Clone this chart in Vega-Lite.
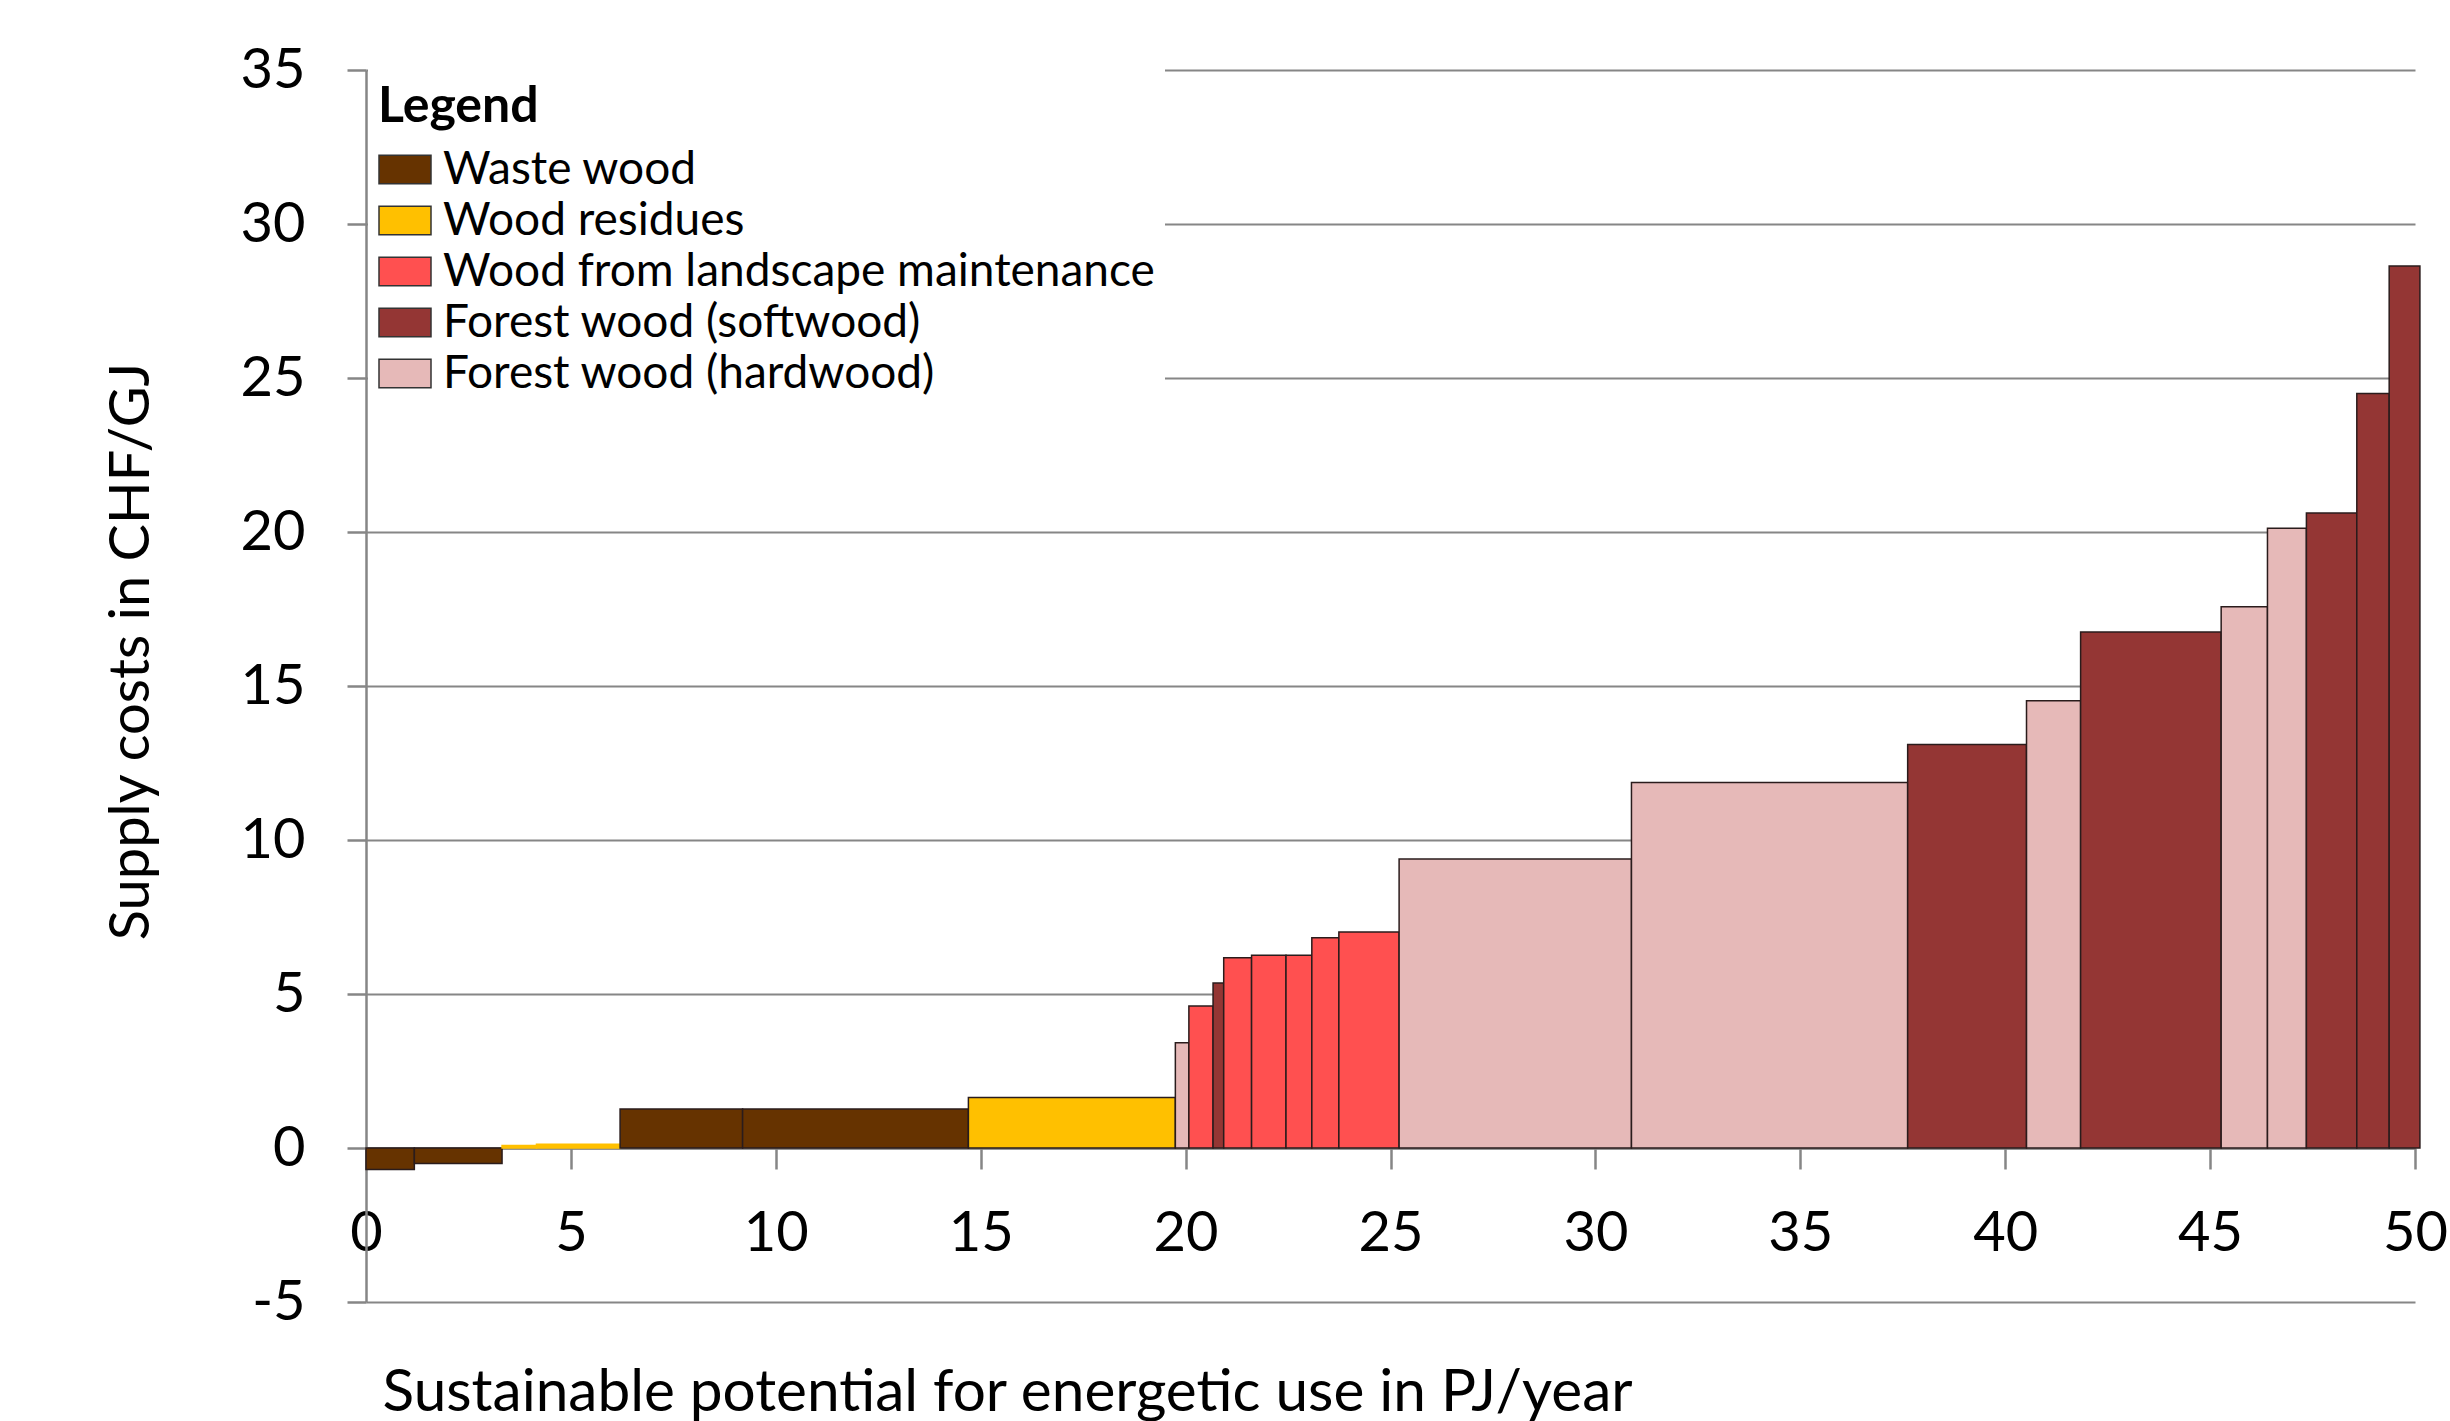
{
  "$schema": "https://vega.github.io/schema/vega-lite/v6.json",
  "width": 2049,
  "height": 1232,
  "autosize": {"type": "none"},
  "padding": {"left": 366, "top": 70, "right": 35, "bottom": 119},
  "background": "white",
  "config": {
    "view": {"stroke": null},
    "font": "Lato"
  },
  "data": {
    "values": [
      {"x0": 0, "x1": 1.18, "cost": -0.7, "type": "Waste wood"},
      {"x0": 1.18, "x1": 3.32, "cost": -0.5, "type": "Waste wood"},
      {"x0": 3.32, "x1": 4.16, "cost": 0.08, "type": "Wood residues"},
      {"x0": 4.16, "x1": 6.2, "cost": 0.12, "type": "Wood residues"},
      {"x0": 6.2, "x1": 9.19, "cost": 1.27, "type": "Waste wood"},
      {"x0": 9.19, "x1": 14.7, "cost": 1.27, "type": "Waste wood"},
      {"x0": 14.7, "x1": 19.75, "cost": 1.64, "type": "Wood residues"},
      {"x0": 19.75, "x1": 20.08, "cost": 3.42, "type": "Forest wood (hardwood)"},
      {"x0": 20.08, "x1": 20.67, "cost": 4.61, "type": "Wood from landscape maintenance"},
      {"x0": 20.67, "x1": 20.93, "cost": 5.36, "type": "Forest wood (softwood)"},
      {"x0": 20.93, "x1": 21.61, "cost": 6.18, "type": "Wood from landscape maintenance"},
      {"x0": 21.61, "x1": 22.45, "cost": 6.26, "type": "Wood from landscape maintenance"},
      {"x0": 22.45, "x1": 23.08, "cost": 6.26, "type": "Wood from landscape maintenance"},
      {"x0": 23.08, "x1": 23.74, "cost": 6.83, "type": "Wood from landscape maintenance"},
      {"x0": 23.74, "x1": 25.21, "cost": 7.01, "type": "Wood from landscape maintenance"},
      {"x0": 25.21, "x1": 30.88, "cost": 9.38, "type": "Forest wood (hardwood)"},
      {"x0": 30.88, "x1": 37.62, "cost": 11.87, "type": "Forest wood (hardwood)"},
      {"x0": 37.62, "x1": 40.52, "cost": 13.1, "type": "Forest wood (softwood)"},
      {"x0": 40.52, "x1": 41.84, "cost": 14.52, "type": "Forest wood (hardwood)"},
      {"x0": 41.84, "x1": 45.27, "cost": 16.75, "type": "Forest wood (softwood)"},
      {"x0": 45.27, "x1": 46.4, "cost": 17.57, "type": "Forest wood (hardwood)"},
      {"x0": 46.4, "x1": 47.35, "cost": 20.12, "type": "Forest wood (hardwood)"},
      {"x0": 47.35, "x1": 48.58, "cost": 20.62, "type": "Forest wood (softwood)"},
      {"x0": 48.58, "x1": 49.37, "cost": 24.5, "type": "Forest wood (softwood)"},
      {"x0": 49.37, "x1": 50.12, "cost": 28.64, "type": "Forest wood (softwood)"}
    ]
  },
  "mark": {"type": "rect", "strokeWidth": 1.5, "clip": false},
  "encoding": {
    "x": {
      "field": "x0", "type": "quantitative",
      "scale": {"domain": [0, 50], "nice": false, "zero": false},
      "axis": {
        "title": "Sustainable potential for energetic use in PJ/year",
        "values": [0, 5, 10, 15, 20, 25, 30, 35, 40, 45, 50],
        "grid": false,
        "offset": -154,
        "domainColor": "#868686", "domainWidth": 2.5,
        "tickColor": "#868686", "tickWidth": 2.5, "tickSize": 21,
        "labelFont": "Lato", "labelFontSize": 56, "labelColor": "black",
        "labelBaseline": "alphabetic", "labelPadding": 81, "labelFlush": false,
        "labelOverlap": false,
        "titleFont": "Lato", "titleFontSize": 58.5, "titleFontWeight": "normal", "titleColor": "black",
        "titleX": 16, "titleY": 262, "titleAlign": "left", "titleAnchor": "start", "titleBaseline": "alphabetic"
      }
    },
    "x2": {"field": "x1"},
    "y": {
      "field": "cost", "type": "quantitative",
      "scale": {"domain": [-5, 35], "nice": false, "zero": false},
      "axis": {
        "title": "Supply costs in CHF/GJ",
        "values": [-5, 0, 5, 10, 15, 20, 25, 30, 35],
        "labelExpr": "'' + datum.value",
        "grid": true, "gridColor": "#868686", "gridWidth": 2.2,
        "domainColor": "#868686", "domainWidth": 2.5,
        "tickColor": "#868686", "tickWidth": 2.5, "tickSize": 19,
        "labelFont": "Lato", "labelFontSize": 56, "labelColor": "black",
        "labelPadding": 42, "labelFlush": false, "labelOverlap": false,
        "titleFont": "Lato", "titleFontSize": 56, "titleFontWeight": "normal", "titleColor": "black",
        "titleX": -218, "titleY": 581, "titleAngle": -90, "titleAlign": "center", "titleBaseline": "alphabetic"
      }
    },
    "y2": {"datum": 0},
    "stroke": {
      "condition": {"test": "datum.cost > 0 && datum.cost < 0.5", "value": "#FFC000"},
      "value": "#2a1c1c"
    },
    "color": {
      "field": "type", "type": "nominal",
      "scale": {
        "domain": ["Waste wood", "Wood residues", "Wood from landscape maintenance", "Forest wood (softwood)", "Forest wood (hardwood)"],
        "range": ["#663300", "#FFC000", "#FF5050", "#943634", "#E6B9B8"]
      },
      "legend": {
        "title": "Legend",
        "orient": "none", "legendX": 2, "legendY": -2,
        "padding": 10, "fillColor": "white",
        "titleFont": "Lato", "titleFontSize": 50, "titleFontWeight": "bold", "titleColor": "black",
        "titleBaseline": "line-top", "titleLineHeight": 58, "titlePadding": 14.5,
        "labelFont": "Lato", "labelFontSize": 46, "labelColor": "black", "labelOffset": 11,
        "labelLimit": 1200,
        "rowPadding": 1,
        "symbolType": "M-1,-0.55H1V0.55H-1Z", "symbolSize": 2704,
        "symbolStrokeColor": "#333333", "symbolStrokeWidth": 1.5, "symbolOpacity": 1
      }
    }
  }
}
